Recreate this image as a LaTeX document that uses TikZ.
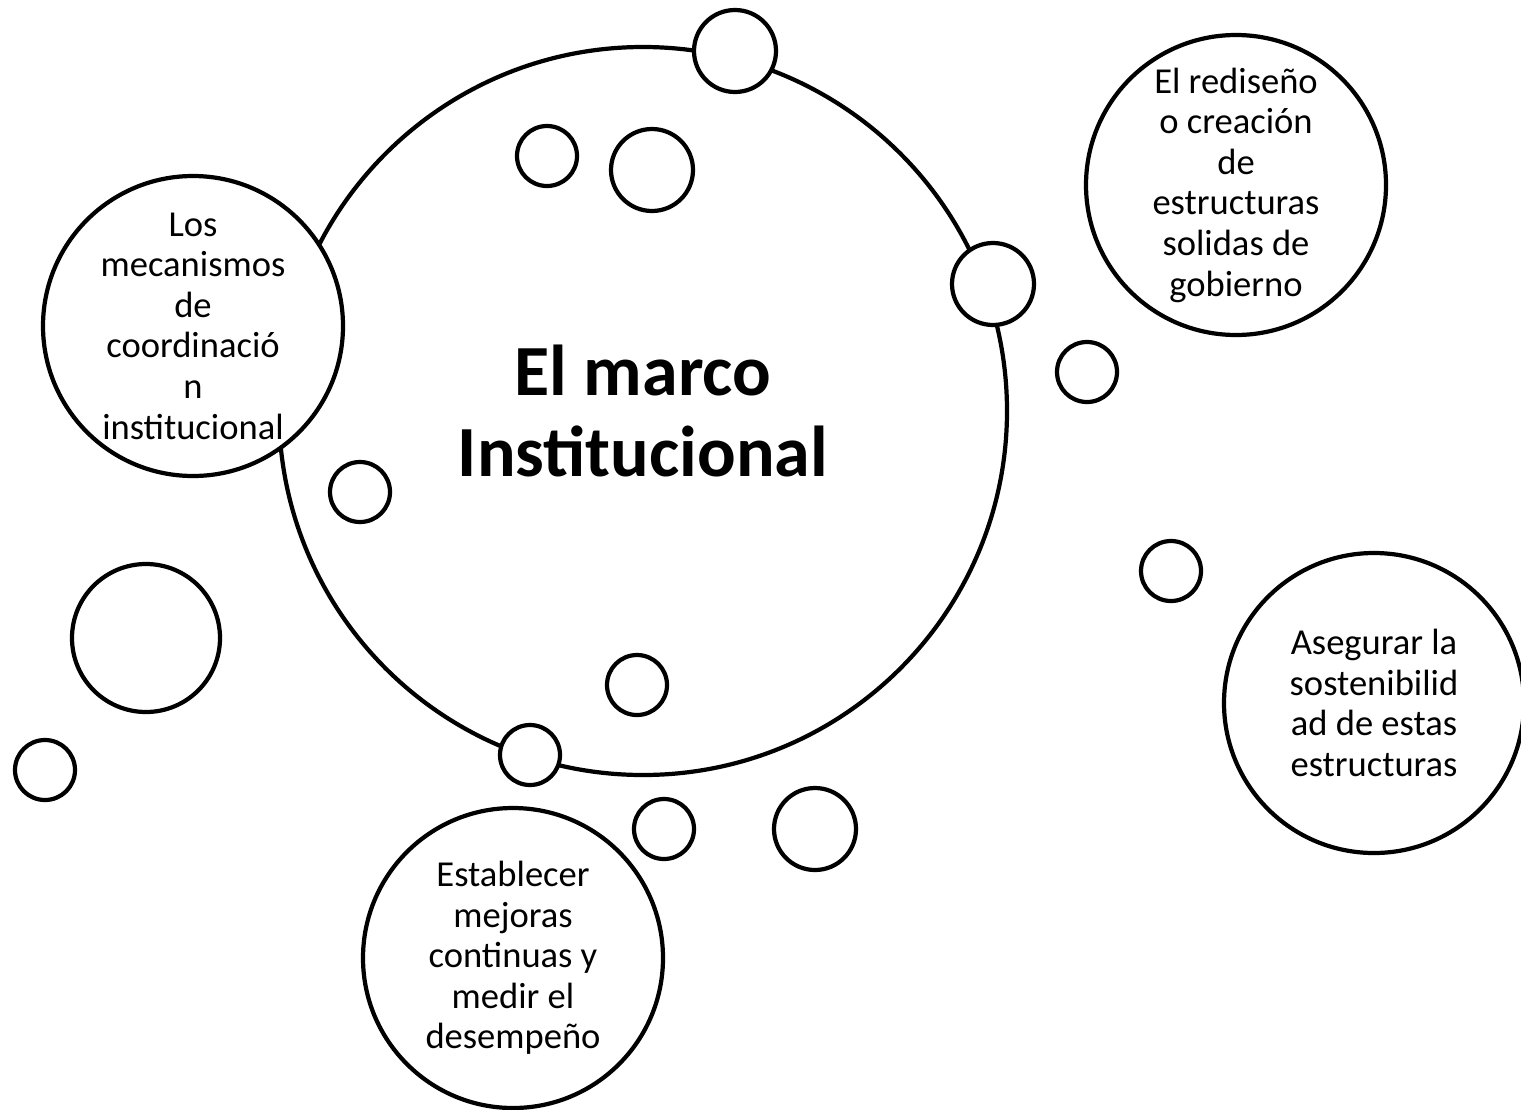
\documentclass[tikz,border=0pt]{standalone}
\usepackage{fontspec}
\setmainfont{Carlito}
\newcommand{\pxu}{0.02cm}
\begin{document}
\begin{tikzpicture}[x=0.02cm,y=-0.02cm,
  ring/.style={circle,draw=black,line width=2.4pt,fill=white,inner sep=0pt},
  bubble/.style={ring,minimum size=2*#1*\pxu},
  idea/.style={ring,minimum size=300*\pxu,align=center,
    font=\fontsize{20.8}{23.1}\selectfont}]
\useasboundingbox (0,0) rectangle (1521,1109);
% main circle
\node[bubble=364,align=center,font=\bfseries\fontsize{41}{46.1}\selectfont]
  (marco) at (643,411) {El marco\\Institucional};
% small bubbles
\foreach \x/\y/\r [count=\i] in {735/51/41, 547/156/30, 652/170/41,
    993/284/41, 1087/372/30, 360/492/30, 146/638/74, 45/770/30,
    637/685/30, 530/755/30, 664/829/30, 815/829/41, 1171/571/30}
  \node[bubble=\r] (b\i) at (\x,\y) {};
% text circles
\node[idea] (mecanismos) at (193,326)
  {Los\\mecanismos\\de\\coordinació\\n\\institucional};
\node[idea] (rediseno) at (1236,185)
  {El rediseño\\o creación\\de\\estructuras\\solidas de\\gobierno};
\node[idea] (sostenibilidad) at (1374,703)
  {Asegurar la\\sostenibilid\\ad de estas\\estructuras};
\node[idea] (mejoras) at (513,958)
  {Establecer\\mejoras\\continuas y\\medir el\\desempeño};
\end{tikzpicture}
\end{document}
